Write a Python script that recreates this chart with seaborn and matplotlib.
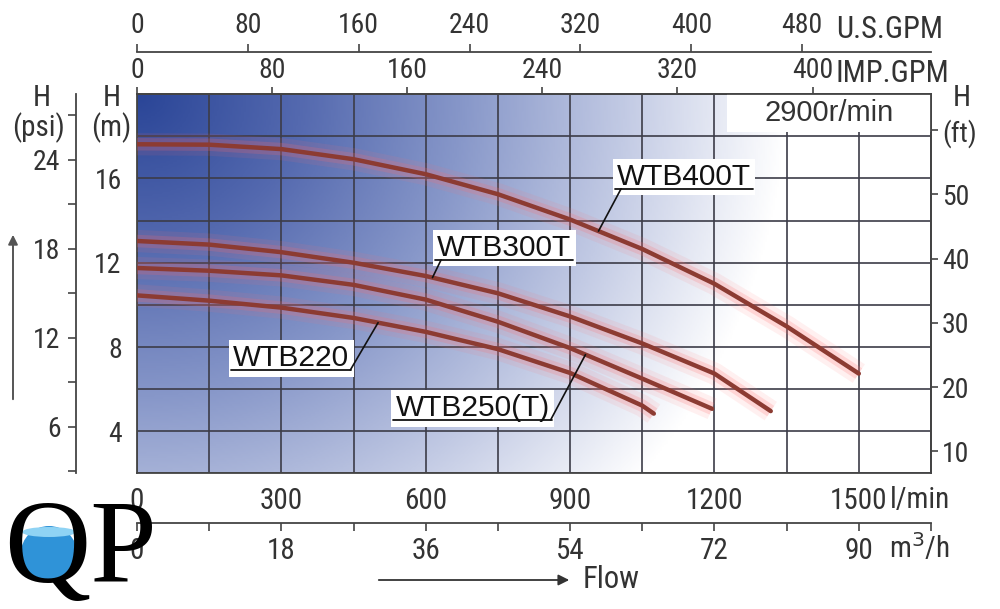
import numpy as np
import pandas as pd
import matplotlib
matplotlib.use("Agg")
import matplotlib.pyplot as plt
import seaborn as sns
from matplotlib.colors import LinearSegmentedColormap
from matplotlib.patches import Rectangle, Ellipse

# ---------------- data ----------------
flow_400 = [0, 150, 300, 450, 600, 750, 900, 1050, 1200, 1350, 1500]
head_400 = [17.62, 17.6, 17.39, 16.91, 16.2, 15.25, 14.05, 12.65, 11.0, 8.98, 6.74]

flow_300 = [0, 150, 300, 450, 600, 750, 900, 1050, 1200, 1317]
head_300 = [13.03, 12.86, 12.5, 12.0, 11.37, 10.55, 9.45, 8.17, 6.74, 4.96]

flow_250 = [0, 150, 300, 450, 600, 750, 900, 1050, 1195]
head_250 = [11.75, 11.62, 11.4, 10.95, 10.25, 9.2, 7.95, 6.5, 5.07]

flow_220 = [0, 150, 300, 450, 600, 750, 900, 1050, 1074]
head_220 = [10.45, 10.2, 9.87, 9.38, 8.72, 7.9, 6.77, 5.22, 4.84]

models = ["WTB400T", "WTB300T", "WTB250(T)", "WTB220"]

lpm_ticks = [0, 300, 600, 900, 1200, 1500]
m3h_ticks = [0, 18, 36, 54, 72, 90]
usgpm_ticks = [0, 80, 160, 240, 320, 400, 480]
impgpm_ticks = [0, 80, 160, 240, 320, 400]
m_ticks = [4, 8, 12, 16]
psi_ticks = [6, 12, 18, 24]
ft_ticks = [10, 20, 30, 40, 50, 60]
ft_labels = ["10", "20", "30", "40", "50", "(ft)"]
speed_label = "2900r/min"

# ---------------- style ----------------
sns.set_theme(style="white")
NARROW = ["Roboto Condensed", "Liberation Sans Narrow", "Liberation Sans", "DejaVu Sans"]
SANS = ["Liberation Sans", "DejaVu Sans"]
SERIF = ["Liberation Serif", "DejaVu Serif"]
plt.rcParams["font.family"] = NARROW
TXT = "#333333"
GRID = "#3c3c48"
FS = 20

W, H = 1000, 609
fig = plt.figure(figsize=(W / 100, H / 100), dpi=100)
fig.patch.set_facecolor("white")
ax = fig.add_axes([0.137, 0.2225, 0.794, 0.623])
XMAX, YMIN, YMAX = 1650, 2, 20
ax.set_xlim(0, XMAX)
ax.set_ylim(YMIN, YMAX)

# background gradient (row 0 = top of plot)
nx, ny = 400, 200
u = np.linspace(0, 1, nx)[None, :]
v = np.linspace(0, 1, ny)[:, None]
r = np.sqrt((u / 0.82) ** 2 + (v / 1.6) ** 2)
d = np.clip(1 - r, 0, 1)
cmap = LinearSegmentedColormap.from_list(
    "bg", [(0, "#ffffff"), (0.25, "#c2cae4"), (0.5, "#8797c9"),
           (0.75, "#5469af"), (1.0, "#2a4597")], N=256)
ax.imshow(d, cmap=cmap, vmin=0, vmax=1, extent=(0, XMAX, YMIN, YMAX), origin="upper",
          aspect="auto", zorder=0, interpolation="bilinear")
ax.set_xlim(0, XMAX)
ax.set_ylim(YMIN, YMAX)

# grid & ticks
ax.set_axisbelow(True)
ax.set_xticks(lpm_ticks)
ax.set_xticks(np.arange(150, XMAX + 1, 300), minor=True)
ax.set_yticks(m_ticks)
ax.set_yticks([2, 6, 10, 14, 18, 20], minor=True)
ax.grid(True, which="both", color=GRID, lw=1.2)
ax.tick_params(axis="both", which="both", direction="out", length=6, width=1.2,
               color="#444444", labelcolor=TXT)
ax.tick_params(axis="x", which="both", labelsize=FS + 1, pad=4)
ax.tick_params(axis="y", which="both", labelsize=FS, pad=5)
for s in ax.spines.values():
    s.set_color("#444444")
    s.set_linewidth(1.3)

# speed box
ax.add_patch(Rectangle((1227, 18.2), XMAX - 1227, YMAX - 18.2, facecolor="white",
                       edgecolor="none", zorder=1.5))
ax.text((1227 + XMAX) / 2, 19.1, speed_label, ha="center", va="center",
        fontsize=21, color=TXT, family=SANS, zorder=6)

# curves
df = pd.concat([
    pd.DataFrame({"flow": flow_400, "head": head_400, "model": models[0]}),
    pd.DataFrame({"flow": flow_300, "head": head_300, "model": models[1]}),
    pd.DataFrame({"flow": flow_250, "head": head_250, "model": models[2]}),
    pd.DataFrame({"flow": flow_220, "head": head_220, "model": models[3]}),
], ignore_index=True)

for lw, col, a in [(16, "#ff7070", 0.10), (9, "#ff6a6a", 0.20)]:
    sns.lineplot(data=df, x="flow", y="head", units="model", estimator=None, sort=False,
                 color=col, lw=lw, alpha=a, ax=ax, legend=False, zorder=3,
                 solid_capstyle="butt", solid_joinstyle="round")
sns.lineplot(data=df, x="flow", y="head", units="model", estimator=None, sort=False,
             color="#8c3b32", lw=3.2, ax=ax, legend=False, zorder=4,
             solid_capstyle="round", solid_joinstyle="round")
ax.set_xlabel("")
ax.set_ylabel("")

# curve labels
curves = {models[0]: (flow_400, head_400), models[1]: (flow_300, head_300),
          models[2]: (flow_250, head_250), models[3]: (flow_220, head_220)}
labels = [  # model, text x, baseline y, leader side, target flow
    (models[0], 998, 15.68, "left", 959),
    (models[1], 624, 12.31, "left", 614),
    (models[3], 200, 7.08, "right", 501),
    (models[2], 537, 4.71, "right", 932),
]
texts = []
for name, tx, ty, side, tf in labels:
    t = ax.text(tx, ty, name, ha="left", va="baseline", fontsize=21.5, family=SANS,
                color="#111111", zorder=7,
                bbox=dict(facecolor="white", edgecolor="none", pad=3))
    texts.append((t, name, ty, side, tf))
fig.canvas.draw()
inv = ax.transData.inverted()
for t, name, ty, side, tf in texts:
    bb = t.get_window_extent()
    (x0, _), (x1, _) = inv.transform([[bb.x0, bb.y0], [bb.x1, bb.y0]])
    uy = ty - 0.17
    ax.plot([x0 - 4, x1 + 4], [uy, uy], color="#111111", lw=1.3, zorder=8)
    fx, fy = curves[name]
    hy = float(np.interp(tf, fx, fy))
    sx = x0 + 8 if side == "left" else x1 + 2
    ax.plot([sx, tf], [uy, hy], color="#111111", lw=1.2, zorder=8)

# secondary axes
def style_sec(sec, axis, size=FS, pad=5, length=6):
    sec.tick_params(axis=axis, which="both", direction="out", length=length, width=1.2,
                    color="#444444", labelcolor=TXT, labelsize=size, pad=pad)
    for s in sec.spines.values():
        s.set_color("#444444")
        s.set_linewidth(1.3)

imp = ax.secondary_xaxis("top", functions=(lambda x: x / 3.51, lambda x: x * 3.51))
imp.set_xticks(impgpm_ticks)
style_sec(imp, "x", size=FS, pad=2, length=5)

us = ax.secondary_xaxis(1.111, functions=(lambda x: x / 2.88, lambda x: x * 2.88))
us.set_xticks(usgpm_ticks)
style_sec(us, "x", size=FS, pad=3, length=6)

m3 = ax.secondary_xaxis(-0.13, functions=(lambda x: x * 0.06, lambda x: x / 0.06))
m3.set_xticks(m3h_ticks)
m3.set_xticks([9, 27, 45, 63, 81, 99], minor=True)
style_sec(m3, "x", size=FS + 1, pad=4, length=6)

psi = ax.secondary_yaxis(-0.077, functions=(lambda m: m * 1.422, lambda p: p / 1.422))
psi.set_yticks(psi_ticks)
psi.set_yticks([3, 9, 15, 21, 27], minor=True)
style_sec(psi, "y", size=FS, pad=5, length=6)

ft = ax.secondary_yaxis("right", functions=(lambda m: m * 3.281, lambda f: f / 3.281))
ft.set_yticks(ft_ticks)
ft.set_yticklabels(ft_labels)
style_sec(ft, "y", size=FS, pad=3, length=5)

# unit texts
def ftxt(px, py, s, **kw):
    kw.setdefault("fontsize", FS)
    kw.setdefault("color", TXT)
    fig.text(px / W, 1 - py / H, s, **kw)

ftxt(836, 30, "U.S.GPM", ha="left", va="center", fontsize=22)
ftxt(835, 73, "IMP.GPM", ha="left", va="center", fontsize=22)
ftxt(890, 500, "l/min", ha="left", va="center", fontsize=FS + 1)
ftxt(889, 548, "m$^3$/h", ha="left", va="center", fontsize=FS + 1)
ftxt(42, 98, "H", ha="center", va="center", fontsize=FS + 1)
ftxt(38, 128, "(psi)", ha="center", va="center", fontsize=FS + 1)
ftxt(112, 98, "H", ha="center", va="center", fontsize=FS + 1)
ftxt(111, 128, "(m)", ha="center", va="center", fontsize=FS + 1)
ftxt(962, 98, "H", ha="center", va="center", fontsize=FS + 1)

# flow arrow
ax.annotate("", xy=(572 / W, 1 - 580 / H), xytext=(376 / W, 1 - 580 / H),
            xycoords="figure fraction", textcoords="figure fraction",
            arrowprops=dict(arrowstyle="-|>", color="#333333", lw=1.3, mutation_scale=16))
ftxt(583, 580, "Flow", ha="left", va="center", fontsize=FS + 2)
# head arrow (left)
ax.annotate("", xy=(13 / W, 1 - 232 / H), xytext=(13 / W, 1 - 402 / H),
            xycoords="figure fraction", textcoords="figure fraction",
            arrowprops=dict(arrowstyle="-|>", color="#555555", lw=1.4, mutation_scale=14))

# logo
fig.add_artist(Ellipse((49 / W, 1 - 553 / H), 56 / W, 54 / H, transform=fig.transFigure,
                       facecolor="#2f93d8", edgecolor="none", zorder=1))
fig.add_artist(Ellipse((49 / W, 1 - 532 / H), 54 / W, 10 / H, transform=fig.transFigure,
                       facecolor="#8fd3f4", edgecolor="none", zorder=1))
fig.text(0.004, 1 - 582 / H, "QP", fontsize=86, family=SERIF, color="black",
         ha="left", va="baseline", zorder=2)

fig.savefig("out.png", dpi=100)
